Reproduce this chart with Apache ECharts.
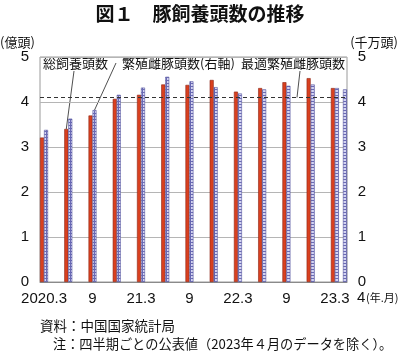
<!DOCTYPE html>
<html>
<head>
<meta charset="utf-8">
<script src="https://cdn.jsdelivr.net/npm/echarts@6/dist/echarts.min.js"></script>
<style>
  html, body { margin: 0; padding: 0; background: #fff; }
  #chart { width: 400px; height: 353px; }
</style>
</head>
<body>
<div id="chart"></div>
<script>
  // 四半期ごとのデータ
  var quarters = ['2020.3','2020.6','2020.9','2020.12','2021.3','2021.6','2021.9','2021.12',
                  '2022.3','2022.6','2022.9','2022.12','2023.3','2023.4']
  // 総飼養頭数（億頭）
  var totalPigs = [3.21, 3.40, 3.70, 4.07, 4.16, 4.39, 4.38, 4.49, 4.23, 4.31, 4.44, 4.53, 4.31, null]
  // 繁殖雌豚頭数（千万頭）
  var sows = [3.38, 3.63, 3.82, 4.16, 4.32, 4.56, 4.46, 4.33, 4.19, 4.28, 4.36, 4.39, 4.31, 4.28]
  // 最適繁殖雌豚頭数
  var optimalSows = 4.1
  // 目盛ラベル（月ごと）
  var tickLabels = {'2020.3': '2020.3', '2020.9': '9', '2021.3': '21.3', '2021.9': '9',
                    '2022.3': '22.3', '2022.9': '9', '2023.3': '23.3'}
  var yTicks = [0, 1, 2, 3, 4, 5]

  // 月単位のカテゴリ 2020.3 ～ 2023.4
  var months = []
  for (var y = 2020; y <= 2023; y++) {
    for (var m = 1; m <= 12; m++) {
      if (y === 2020 && m < 3) continue
      if (y === 2023 && m > 4) break
      months.push(y + '.' + m)
    }
  }
  var redData = months.map(function(){ return null })
  var blueData = months.map(function(){ return null })
  quarters.forEach(function(q, i){
    var idx = months.indexOf(q)
    redData[idx] = totalPigs[i]
    blueData[idx] = sows[i]
  })

  // 青い棒の模様
  var pat = document.createElement('canvas')
  pat.width = 4; pat.height = 3
  var ctx = pat.getContext('2d')
  ctx.fillStyle = '#d4d4f2'
  ctx.fillRect(0, 0, 4, 3)
  ctx.fillStyle = '#6a6ab4'
  ctx.fillRect(0, 2, 4, 1)
  ctx.fillRect(2, 0, 1, 3)

  var numFont = '"Liberation Sans", Arial, sans-serif'
  var jpFont = '"Noto Sans CJK JP", sans-serif'

  var chart = echarts.init(document.getElementById('chart'))
  var option = {
    animation: false,
    grid: {
      left: 40, right: 53, top: 57, bottom: 71,
      show: true, borderColor: '#9a9a9a', borderWidth: 1
    },
    xAxis: {
      type: 'category',
      data: months,
      boundaryGap: true,
      axisLine: { lineStyle: { color: '#8a8a8a' } },
      axisTick: {
        inside: true, length: 4,
        interval: function(i){ return i % 3 === 2 },
        lineStyle: { color: '#8a8a8a' }
      },
      axisLabel: {
        interval: 0, margin: 9,
        fontFamily: numFont, fontSize: 15, color: '#111',
        formatter: function(v){ return tickLabels[v] || '' }
      }
    },
    yAxis: [
      {
        type: 'value', min: 0, max: 5, interval: 1,
        axisLine: { show: false }, axisTick: { show: false },
        splitLine: { lineStyle: { color: '#b5b5b5' } },
        axisLabel: { margin: 15, fontFamily: numFont, fontSize: 15, color: '#111', align: 'center',
          formatter: function(v){ return yTicks.indexOf(v) >= 0 ? String(v) : '' } }
      },
      {
        type: 'value', min: 0, max: 5, interval: 1, position: 'right',
        axisLine: { show: false }, axisTick: { show: false },
        splitLine: { show: false },
        axisLabel: { margin: 15, fontFamily: numFont, fontSize: 15, color: '#111', align: 'center',
          formatter: function(v){ return yTicks.indexOf(v) >= 0 ? String(v) : '' } }
      }
    ],
    series: [
      {
        name: '総飼養頭数',
        type: 'bar',
        yAxisIndex: 0,
        barWidth: 4,
        barGap: '0%',
        data: redData,
        itemStyle: { color: '#d9401f', borderColor: '#8c2414', borderWidth: 0.6 }
      },
      {
        name: '繁殖雌豚頭数',
        type: 'bar',
        yAxisIndex: 1,
        barWidth: 4,
        data: blueData,
        itemStyle: { color: { image: pat, repeat: 'repeat' }, borderColor: '#5656a0', borderWidth: 0.6 },
        markLine: {
          silent: true, symbol: 'none',
          label: { show: false },
          lineStyle: { color: '#333', type: [4, 3], width: 1 },
          data: [{ yAxis: optimalSows }]
        }
      }
    ],
    graphic: []
  }
  chart.setOption(option)

  // 引き出し線の位置を計算
  function barTop(seriesIdx, qIdx, shift){
    var idx = months.indexOf(quarters[qIdx])
    var val = seriesIdx === 0 ? totalPigs[qIdx] : sows[qIdx]
    var p = chart.convertToPixel({ xAxisIndex: 0, yAxisIndex: seriesIdx }, [idx, val])
    return [p[0] + shift, p[1]]
  }
  var p1 = barTop(0, 1, -2)
  var p2 = barTop(1, 2, 2)
  var dashY = chart.convertToPixel({ yAxisIndex: 1 }, optimalSows)

  var line = function(a, b){
    return { type: 'line', shape: { x1: a[0], y1: a[1], x2: b[0], y2: b[1] },
             style: { stroke: '#222', lineWidth: 0.8 } }
  }

  chart.setOption({
    graphic: [
      // タイトル
      { type: 'text', x: 200, y: 14,
        style: { text: '図１　豚飼養頭数の推移', fontSize: 19, fontWeight: 'bold', fontFamily: jpFont,
                 fill: '#111', textAlign: 'center', textVerticalAlign: 'middle' } },
      { type: 'text', x: 0, y: 42, style: { text: '(億頭)', fontSize: 13, fontFamily: jpFont, fill: '#111', textVerticalAlign: 'middle' } },
      { type: 'text', x: 398, y: 42, style: { text: '(千万頭)', fontSize: 13, fontFamily: jpFont, fill: '#111', textAlign: 'right', textVerticalAlign: 'middle' } },
      // 凡例ラベル
      { type: 'text', x: 43, y: 63, style: { text: '総飼養頭数', fontSize: 13, fontFamily: jpFont, fill: '#111', textVerticalAlign: 'middle' } },
      { type: 'text', x: 122, y: 63, style: { text: '繁殖雌豚頭数(右軸)', fontSize: 13, fontFamily: jpFont, fill: '#111', textVerticalAlign: 'middle' } },
      { type: 'text', x: 345, y: 63, style: { text: '最適繁殖雌豚頭数', fontSize: 13, fontFamily: jpFont, fill: '#111', textAlign: 'right', textVerticalAlign: 'middle' } },
      line([74, 71], p1),
      line([116, 63], p2),
      line([300, 71], [297, dashY]),
      // 最後の月と単位
      { type: 'text', x: 357, y: 298, style: { text: '4', fontSize: 15, fontFamily: numFont, fill: '#111', textVerticalAlign: 'middle' } },
      { type: 'text', x: 366, y: 298, style: { text: '(年.月)', fontSize: 11, fontFamily: jpFont, fill: '#111', textVerticalAlign: 'middle' } },
      // 注記
      { type: 'text', x: 40, y: 326, style: { text: '資料：中国国家統計局', fontSize: 13.5, fontFamily: jpFont, fill: '#111', textVerticalAlign: 'middle' } },
      { type: 'text', x: 53, y: 344, style: { text: '注：四半期ごとの公表値（2023年４月のデータを除く）。', fontSize: 13.2, fontFamily: jpFont, fill: '#111', textVerticalAlign: 'middle' } }
    ]
  })
</script>
</body>
</html>
